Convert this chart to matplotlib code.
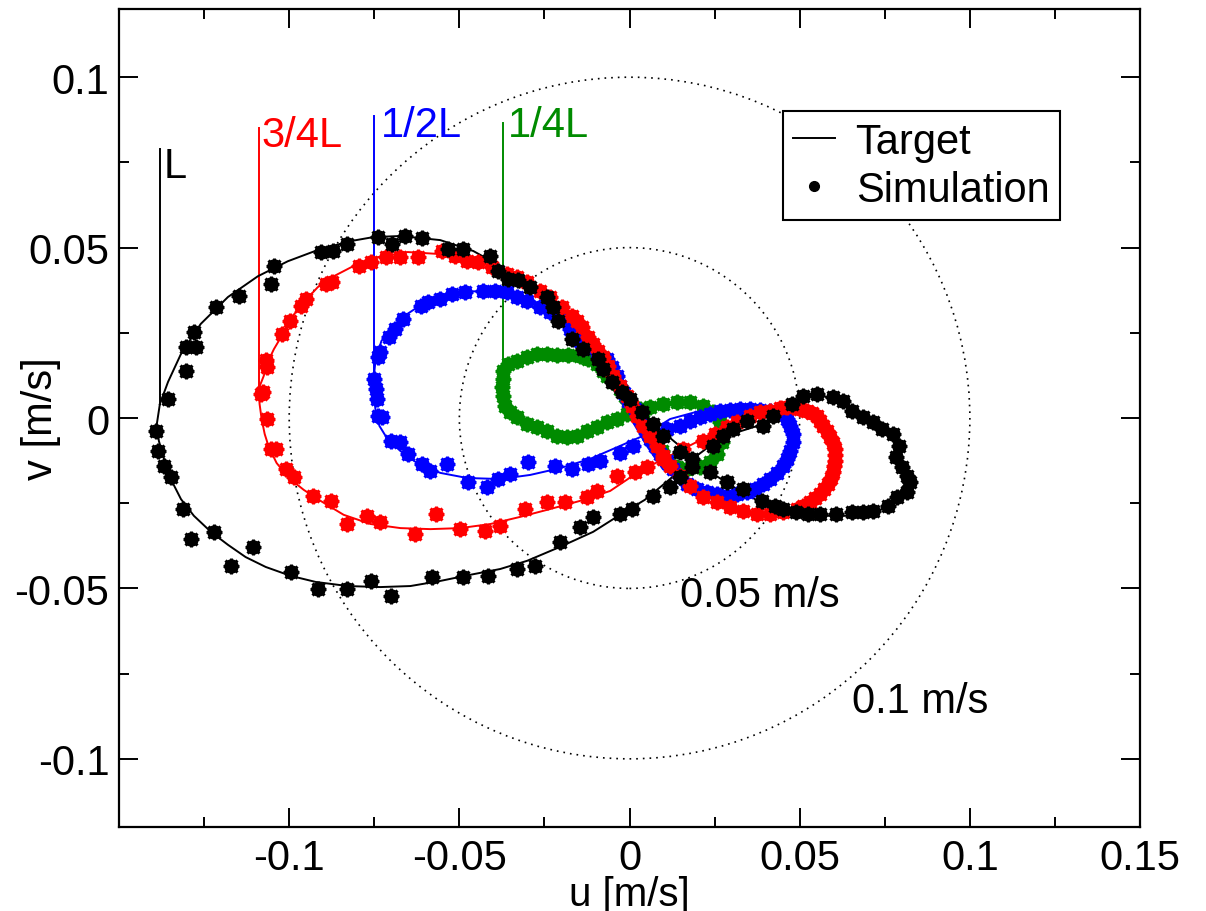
import numpy as np
import matplotlib
matplotlib.use("Agg")
import matplotlib.pyplot as plt
from matplotlib.lines import Line2D
from matplotlib.patches import Circle
from matplotlib.ticker import MultipleLocator

plt.rcParams['font.family'] = ['Liberation Sans', 'DejaVu Sans']
plt.rcParams['axes.unicode_minus'] = False

# hodographs (u, v) in mm/s, one loop per position along the body
target_L = [(-138.0, 4.1), (-138.9, -1.8), (-138.3, -6.7), (-136.8, -12.0), (-134.8, -17.9),
            (-131.8, -23.8), (-128.0, -28.7), (-123.0, -33.4), (-118.0, -37.2), (-112.8, -40.8),
            (-106.9, -43.7), (-99.6, -46.3), (-92.2, -48.1), (-82.8, -49.3), (-73.2, -49.6),
            (-64.4, -49.3), (-55.6, -47.8), (-46.8, -46.0), (-38.0, -44.3), (-30.1, -41.9),
            (-20.4, -37.8), (-10.7, -33.4), (-2.8, -28.4), (4.5, -24.0), (11.9, -17.9),
            (17.7, -12.6), (23.6, -8.2), (30.9, -4.4), (38.3, -2.1), (44.1, 1.8),
            (50.0, 5.6), (55.9, 6.7), (61.7, 5.0), (67.6, 0.9), (73.5, -3.2),
            (78.4, -7.6), (80.2, -13.5), (80.8, -19.4), (77.9, -24.3), (72.6, -27.6),
            (65.5, -28.7), (55.9, -28.7), (47.1, -27.6), (38.3, -24.6), (31.5, -20.8),
            (23.6, -15.8), (16.9, -10.0), (9.8, -4.1), (3.1, 2.1), (-2.8, 8.8),
            (-7.8, 15.2), (-13.6, 21.1), (-18.3, 28.2), (-24.2, 34.9), (-31.2, 40.2),
            (-38.0, 44.6), (-45.9, 49.0), (-55.6, 52.2), (-67.3, 53.4), (-75.2, 53.1),
            (-82.0, 51.9), (-91.6, 49.3), (-100.4, 46.0), (-109.2, 41.6), (-118.0, 35.5),
            (-126.0, 27.6), (-131.8, 18.8), (-135.6, 10.6), (-138.0, 4.1)]

target_34L = [(-109.0, 8.5), (-108.7, 4.1), (-108.1, -0.3), (-107.2, -4.7), (-106.0, -8.5),
              (-103.7, -13.2), (-100.1, -17.6), (-95.7, -21.1), (-90.8, -24.3), (-84.0, -28.4),
              (-76.1, -31.1), (-67.3, -32.3), (-58.5, -32.6), (-49.7, -32.3), (-40.9, -31.1),
              (-32.1, -29.0), (-23.3, -26.7), (-14.5, -24.3), (-5.7, -21.4), (3.1, -15.5),
              (11.3, -11.4), (19.8, -7.0), (26.5, -3.2), (34.5, 0.6), (41.2, 2.6),
              (47.1, 3.5), (52.1, 2.6), (55.9, -0.3), (58.8, -5.3), (60.3, -10.0),
              (59.7, -15.8), (56.7, -20.8), (52.9, -24.6), (47.9, -27.3), (41.2, -28.2),
              (34.5, -27.3), (27.4, -25.2), (21.6, -22.3), (16.9, -17.9), (11.9, -12.9),
              (6.9, -8.2), (2.2, -1.2), (-1.3, 5.6), (-4.8, 13.5), (-7.8, 18.2),
              (-10.7, 22.3), (-14.5, 27.0), (-21.3, 32.8), (-30.1, 39.9), (-38.0, 43.7),
              (-45.9, 46.0), (-55.6, 48.1), (-65.2, 48.7), (-74.0, 47.2), (-81.1, 44.6),
              (-86.9, 41.6), (-91.6, 38.4), (-95.7, 34.0), (-99.0, 29.9), (-101.9, 24.6),
              (-104.5, 20.2), (-106.3, 16.4), (-107.5, 12.3), (-109.0, 8.5)]

target_12L = [(-75.2, 11.4), (-75.2, 7.0), (-74.6, 2.1), (-73.5, -2.3), (-71.1, -6.2),
              (-67.3, -9.7), (-62.0, -13.5), (-55.6, -16.1), (-47.7, -17.6), (-38.0, -17.9),
              (-29.2, -16.7), (-20.4, -14.7), (-11.6, -12.0), (-2.8, -8.2), (4.5, -5.0),
              (11.9, -0.3), (20.7, 2.1), (29.5, 3.2), (38.3, 2.6), (44.1, 0.9),
              (47.1, -2.6), (47.9, -6.7), (46.8, -12.0), (43.3, -17.9), (36.2, -21.7),
              (29.5, -22.9), (22.7, -21.7), (15.7, -18.8), (9.8, -15.0), (5.1, -8.2),
              (1.0, -1.2), (-2.8, 5.6), (-6.6, 13.8), (-11.6, 19.4), (-16.6, 24.0),
              (-21.3, 29.0), (-26.2, 32.6), (-31.2, 34.9), (-38.0, 37.0), (-46.8, 37.2),
              (-55.6, 35.5), (-61.4, 33.1), (-65.8, 30.2), (-69.9, 26.7), (-72.9, 22.6),
              (-74.6, 17.3), (-75.2, 11.4)]

target_14L = [(-37.1, 12.0), (-37.1, 7.6), (-35.9, 3.5), (-32.1, -0.3), (-26.2, -3.2),
              (-20.4, -5.0), (-14.5, -5.0), (-8.7, -2.6), (-2.8, -0.3), (3.1, 1.8),
              (8.9, 3.5), (14.8, 4.4), (20.7, 4.4), (25.1, 2.3), (27.1, -1.8),
              (26.5, -7.6), (23.0, -12.0), (17.7, -14.4), (12.8, -13.5), (8.9, -9.7),
              (5.4, -4.1), (1.6, 2.1), (-2.8, 7.6), (-6.6, 12.3), (-10.1, 16.4),
              (-14.5, 18.5), (-20.4, 18.8), (-26.2, 18.5), (-32.1, 17.3), (-35.6, 15.2),
              (-37.1, 12.0)]

sim_L = [(-135.6, 5.6), (-130.4, 13.8), (-130.4, 20.8), (-127.4, 20.8), (-128.0, 25.2),
         (-121.6, 32.6), (-114.8, 35.8), (-105.4, 39.3), (-104.6, 44.6), (-90.8, 48.7),
         (-87.0, 49.0), (-82.9, 51.0), (-73.8, 53.1), (-69.7, 51.0), (-66.1, 53.4),
         (-61.1, 52.8), (-53.2, 49.6), (-48.8, 49.6), (-40.9, 47.5), (-38.6, 43.1),
         (-35.6, 40.8), (-32.7, 40.5), (-29.2, 38.4), (-24.2, 35.5), (-22.4, 32.6),
         (-21.0, 28.4), (-16.9, 23.2), (-13.6, 20.2), (-9.2, 17.3), (-7.8, 14.4),
         (-5.1, 10.6), (-2.2, 7.6), (0.1, 5.6), (3.7, 1.8), (6.9, -1.8),
         (9.8, -5.3), (14.8, -10.0), (18.3, -12.0), (23.6, -15.8), (28.6, -18.8),
         (33.3, -20.8), (38.9, -24.3), (42.7, -25.8), (45.0, -26.7), (48.8, -27.6),
         (52.3, -28.2), (55.9, -28.2), (60.8, -28.2), (65.5, -27.6), (68.5, -27.6),
         (71.4, -27.3), (75.8, -25.8), (78.7, -23.2), (81.4, -21.7), (82.3, -18.8),
         (81.4, -17.0), (80.2, -14.4), (78.4, -11.4), (79.3, -8.2), (77.3, -4.7),
         (74.3, -3.2), (71.4, -1.2), (68.5, 0.3), (65.5, 2.1), (62.6, 5.0),
         (59.7, 6.2), (55.0, 7.0), (50.9, 6.5), (47.7, 4.1), (42.1, 0.6),
         (39.1, -2.3), (34.5, -0.9), (30.4, -3.2), (27.4, -5.3), (24.5, -8.2),
         (18.3, -14.4), (14.8, -17.3), (11.9, -20.2), (6.9, -22.9), (0.7, -26.7),
         (-2.8, -28.2), (-10.7, -29.0), (-14.5, -32.0), (-20.4, -36.4), (-27.7, -43.4),
         (-33.0, -44.3), (-41.5, -46.3), (-48.8, -46.6), (-57.9, -46.6), (-70.2, -52.2),
         (-76.1, -47.8), (-82.9, -50.2), (-91.6, -50.2), (-99.6, -45.2), (-110.7, -37.8),
         (-117.2, -43.4), (-122.1, -33.4), (-128.9, -35.5), (-131.2, -26.7), (-134.8, -17.3),
         (-136.8, -14.1), (-138.6, -9.7), (-139.1, -3.8)]

sim_34L = [(-107.8, 7.6), (-106.6, 15.0), (-106.9, 17.0), (-102.2, 24.6), (-99.9, 28.4),
           (-96.6, 32.9), (-95.2, 34.9), (-89.3, 39.3), (-87.3, 39.9), (-79.6, 44.6),
           (-76.1, 45.8), (-71.7, 47.2), (-67.3, 47.2), (-62.3, 47.2), (-55.0, 49.0),
           (-51.2, 47.5), (-47.7, 46.0), (-44.4, 45.8), (-40.3, 44.3), (-35.9, 42.2),
           (-33.0, 41.4), (-30.1, 39.9), (-26.2, 37.2), (-23.3, 35.5), (-19.8, 32.6),
           (-16.9, 29.9), (-15.4, 28.4), (-13.9, 26.7), (-12.2, 23.8), (-10.7, 21.7),
           (-9.2, 19.7), (-7.8, 17.9), (-6.3, 15.3), (-4.8, 12.3), (-2.8, 9.4),
           (-0.7, 6.5), (0.7, 3.5), (2.2, 0.6), (4.0, -2.3), (6.0, -5.3),
           (8.1, -8.2), (9.8, -11.1), (11.9, -14.1), (14.8, -17.0), (17.7, -19.9),
           (21.6, -23.2), (25.7, -24.6), (29.5, -26.1), (33.3, -27.3), (37.4, -28.2),
           (41.2, -28.2), (45.0, -27.6), (49.1, -26.7), (50.9, -25.8), (52.9, -24.6),
           (54.4, -23.5), (55.9, -22.3), (57.0, -20.8), (58.2, -19.4), (59.1, -17.6),
           (59.7, -15.8), (60.0, -14.1), (60.3, -12.6), (60.3, -10.9), (60.3, -9.1),
           (59.7, -7.3), (58.8, -5.6), (57.9, -3.8), (56.8, -2.3), (55.9, -0.9),
           (55.0, 0.6), (53.5, 1.5), (52.1, 2.1), (50.0, 2.6), (48.0, 3.2),
           (46.2, 3.2), (44.1, 2.9), (41.2, 2.1), (38.3, 1.8), (35.3, 0.6),
           (31.5, -1.2), (28.6, -2.6), (25.1, -4.7), (21.6, -6.7), (15.7, -9.1),
           (9.8, -12.0), (5.1, -14.4), (1.6, -15.8), (-3.7, -17.0), (-9.5, -21.4),
           (-12.5, -23.2), (-18.9, -24.6), (-24.2, -24.6), (-30.6, -26.7), (-38.0, -31.7),
           (-42.4, -33.1), (-49.7, -32.6), (-57.0, -28.2), (-62.9, -34.0), (-73.2, -30.5),
           (-77.0, -28.7), (-82.9, -31.1), (-87.8, -24.3), (-93.1, -22.9), (-98.7, -17.3),
           (-101.0, -15.0), (-104.0, -9.1), (-105.4, -9.1), (-106.6, -0.3), (-108.4, 7.0)]

sim_12L = [(-75.2, 11.4), (-74.6, 8.5), (-74.1, 5.6), (-73.8, 0.6), (-72.6, 0.3),
           (-70.2, -6.7), (-67.3, -7.0), (-65.0, -10.6), (-60.9, -13.5), (-58.5, -15.5),
           (-53.5, -13.5), (-47.4, -18.8), (-41.8, -20.2), (-38.6, -17.9), (-35.0, -16.4),
           (-29.8, -12.9), (-21.9, -14.1), (-16.9, -15.0), (-12.2, -13.5), (-8.7, -12.6),
           (-2.8, -10.3), (1.0, -8.2), (6.0, -5.3), (11.0, -3.2), (14.8, -2.3),
           (17.7, -0.9), (20.7, 0.3), (23.6, 1.2), (26.5, 2.1), (29.5, 2.3),
           (32.4, 2.6), (35.3, 2.6), (38.3, 2.3), (41.2, 2.1), (44.1, 1.5),
           (46.2, -0.3), (47.1, -2.3), (48.0, -4.7), (48.0, -7.0), (47.1, -9.7),
           (46.2, -12.0), (45.0, -14.1), (43.3, -16.1), (41.2, -17.9), (39.2, -19.4),
           (36.8, -20.8), (34.5, -21.7), (31.5, -22.3), (28.6, -22.9), (25.7, -22.3),
           (22.7, -21.7), (19.8, -20.8), (16.9, -19.4), (14.8, -17.3), (12.8, -15.0),
           (11.0, -12.6), (8.9, -10.6), (7.5, -8.2), (6.0, -6.2), (4.5, -3.2),
           (3.1, -0.3), (1.6, 2.6), (-0.4, 5.0), (-1.6, 7.3), (-2.8, 9.4),
           (-3.7, 12.3), (-5.1, 15.0), (-6.6, 17.3), (-9.5, 19.4), (-12.2, 20.8),
           (-14.5, 22.6), (-17.5, 26.1), (-20.4, 29.0), (-23.3, 31.1), (-26.2, 32.6),
           (-30.1, 34.3), (-33.0, 35.5), (-35.9, 37.0), (-39.4, 37.2), (-43.0, 37.2),
           (-48.2, 37.0), (-52.1, 36.4), (-55.6, 34.9), (-59.1, 34.0), (-61.4, 32.8),
           (-66.7, 29.0), (-68.8, 26.1), (-70.8, 23.8), (-73.2, 19.4), (-73.8, 17.9)]

sim_14L = [(-37.1, 11.4), (-37.4, 9.1), (-37.1, 6.5), (-36.5, 3.5), (-35.0, 1.8),
           (-33.0, 0.3), (-30.1, -1.8), (-27.1, -2.6), (-24.2, -3.8), (-21.3, -5.3),
           (-18.3, -5.6), (-15.4, -5.3), (-12.5, -3.8), (-9.5, -2.6), (-6.6, -1.2),
           (-3.7, -0.3), (-0.7, 1.2), (3.1, 2.6), (6.0, 3.2), (9.8, 4.1),
           (13.9, 4.7), (17.7, 4.7), (21.6, 3.5), (24.5, 1.8), (26.5, -1.2),
           (27.4, -4.1), (27.1, -7.0), (25.7, -10.6), (23.6, -12.9), (20.7, -14.4),
           (16.9, -15.0), (13.9, -14.4), (11.3, -12.6), (9.5, -9.7), (8.1, -6.7),
           (6.0, -3.8), (4.0, -0.9), (1.6, 2.1), (-0.4, 4.7), (-1.3, 6.5),
           (-2.8, 8.5), (-4.8, 10.6), (-6.6, 12.3), (-7.8, 13.8), (-9.5, 15.8),
           (-12.2, 17.3), (-14.5, 18.2), (-18.0, 18.5), (-21.3, 18.5), (-24.2, 18.8),
           (-27.1, 18.8), (-30.1, 17.9), (-33.0, 16.7), (-35.6, 15.8), (-37.1, 13.8)]

# top of the marker line above each loop, with its label position (mm/s)
marker_tops = [78.9, 85.0, 88.6, 86.5]
label_names = ['L', '3/4L', '1/2L', '1/4L']
label_pos = [(-136.8, 70.7), (-108.1, 79.8), (-73.2, 82.7), (-35.6, 82.7)]

speed_radii = [0.05, 0.1]
speed_labels = ['0.05 m/s', '0.1 m/s']
speed_label_pos = [(14.8, -55.1), (65.5, -86.2)]

colors = ['black', '#ff0000', '#0000ff', '#008b00']


def to_ms(pts):
    arr = np.array(pts) / 1000.0
    return arr[:, 0], arr[:, 1]


def draw_sim(ax, pts, color, z):
    u, v = to_ms(pts)
    # filled dot with a ragged rim
    ax.plot(u, v, ls='none', marker='o', ms=9.5, color=color, mec=color, zorder=z)
    ax.plot(u, v, ls='none', marker='+', ms=11.5, mew=2.2, color=color, zorder=z)
    ax.plot(u, v, ls='none', marker='x', ms=8, mew=2.2, color=color, zorder=z)


fig = plt.figure(figsize=(12.06, 9.12), dpi=100)
ax = fig.add_axes([0.0987, 0.0921, 0.8466, 0.8969])

for r in speed_radii:
    ax.add_patch(Circle((0, 0), r, fill=False, ec='black', lw=1.2,
                        ls=(0, (1, 3)), zorder=1))
for txt, (x, y) in zip(speed_labels, speed_label_pos):
    ax.text(x / 1000, y / 1000, txt, fontsize=30, ha='left', va='baseline')

targets = [target_L, target_34L, target_12L, target_14L]
sims = [sim_L, sim_34L, sim_12L, sim_14L]

for i in [3, 2, 1, 0]:
    u, v = to_ms(targets[i])
    c = colors[i]
    ax.plot(u, v, color=c, lw=1.4, zorder=2 + i * 0.1)
    ax.plot([u[0], u[0]], [v[0], marker_tops[i] / 1000], color=c, lw=1.4, zorder=2)
    lx, ly = label_pos[i]
    ax.text(lx / 1000, ly / 1000, label_names[i], color=c, fontsize=30,
            ha='left', va='baseline')

for i in [3, 2, 1, 0]:
    draw_sim(ax, sims[i], colors[i], 4 - i * 0.1 + 1)

ax.set_xlim(-0.15, 0.15)
ax.set_ylim(-0.12, 0.12)
ax.set_xticks([-0.1, -0.05, 0, 0.05, 0.1, 0.15])
ax.set_xticklabels(['-0.1', '-0.05', '0', '0.05', '0.1', '0.15'])
ax.set_yticks([-0.1, -0.05, 0, 0.05, 0.1])
ax.set_yticklabels(['-0.1', '-0.05', '0', '0.05', '0.1'])
ax.xaxis.set_minor_locator(MultipleLocator(0.025))
ax.yaxis.set_minor_locator(MultipleLocator(0.025))
ax.tick_params(which='both', direction='in', top=True, right=True, width=1.4)
ax.tick_params(which='major', length=14, labelsize=30)
ax.tick_params(which='minor', length=7)
ax.tick_params(axis='x', pad=8)
ax.tick_params(axis='y', pad=7)
for s in ax.spines.values():
    s.set_linewidth(1.6)

ax.set_xlabel('u [m/s]', fontsize=29, labelpad=-2)
ax.set_ylabel('v [m/s]', fontsize=30)
ax.yaxis.set_label_coords(-0.057, 0.5)

handles = [Line2D([], [], color='black', lw=1.4),
           Line2D([], [], color='black', ls='none', marker='o', ms=7)]
leg = ax.legend(handles, ['Target', 'Simulation'], loc='upper left',
                bbox_to_anchor=(0.650, 0.875), borderaxespad=0, fontsize=30,
                frameon=True, fancybox=False, framealpha=1, edgecolor='black',
                handlelength=1.0, handletextpad=0.5, borderpad=0.25,
                labelspacing=0.2)
leg.get_frame().set_linewidth(1.5)

fig.savefig('out.png', dpi=100)
